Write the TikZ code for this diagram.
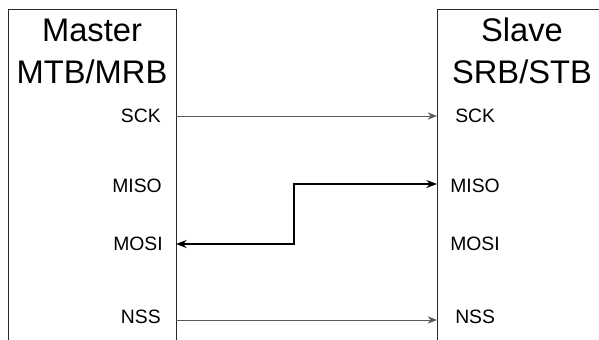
\documentclass[tikz,border=0pt]{standalone}
\usepackage{fontspec}
\setmainfont{Liberation Sans}
\usetikzlibrary{arrows.meta}
\definecolor{linegray}{RGB}{90,90,90}
\definecolor{framegray}{RGB}{40,40,40}
\newcommand{\titlefont}{\fontsize{24.5}{31.5}\selectfont}
\newcommand{\pinfont}{\fontsize{14.5}{17}\selectfont}
\newcommand{\drawsignal}{\draw[linegray, line width=0.75pt, -{Stealth[length=7pt, width=5.5pt]}]}

\begin{document}
\begin{tikzpicture}[x=0.75pt, y=-0.75pt,
    pinlabel/.style={inner sep=0pt, font=\pinfont}]
    \useasboundingbox (0,0) rectangle (599,339);

    % Draw boxes
    \begin{scope}
        \clip (0,0) rectangle (599,339);
        \draw[framegray, line width=0.75pt] (8,345) -- (8,9) -- (176,9) -- (176,345);
        \draw[framegray, line width=0.75pt] (437,345) -- (437,9) -- (610,9);
    \end{scope}

    % Draw titles
    \node[align=center, inner sep=0pt, anchor=base, font=\titlefont] (master) at (92,83)
        {Master\\MTB/MRB};
    \node[align=center, inner sep=0pt, anchor=base, font=\titlefont] (slave) at (522,83)
        {Slave\\SRB/STB};

    % Draw pin labels
    \node[pinlabel, anchor=base east] (msck) at (161,122) {SCK};
    \node[pinlabel, anchor=base east] (mmiso) at (162,192) {MISO};
    \node[pinlabel, anchor=base east] (mmosi) at (163,250) {MOSI};
    \node[pinlabel, anchor=base east] (mnss) at (161,323) {NSS};

    \node[pinlabel, anchor=base west] (ssck) at (455,122) {SCK};
    \node[pinlabel, anchor=base west] (smiso) at (450,192) {MISO};
    \node[pinlabel, anchor=base west] (smosi) at (450,250) {MOSI};
    \node[pinlabel, anchor=base west] (snss) at (455,323) {NSS};

    % Pins on the box edges
    \coordinate (m_sck) at (176,116);
    \coordinate (m_mosi) at (176,244);
    \coordinate (m_nss) at (176,320);
    \coordinate (s_sck) at (437,116);
    \coordinate (s_miso) at (437,184);
    \coordinate (s_nss) at (437,320);
    \coordinate (jog) at (294,0);

    % Draw signals
    \drawsignal (m_sck) -- (s_sck);
    \drawsignal (m_nss) -- (s_nss);
    \draw[black, line width=1.1pt, {Stealth[length=8pt, width=6pt]}-{Stealth[length=8pt, width=6pt]}]
        (m_mosi) -| (jog |- s_miso) -- (s_miso);
\end{tikzpicture}
\end{document}
